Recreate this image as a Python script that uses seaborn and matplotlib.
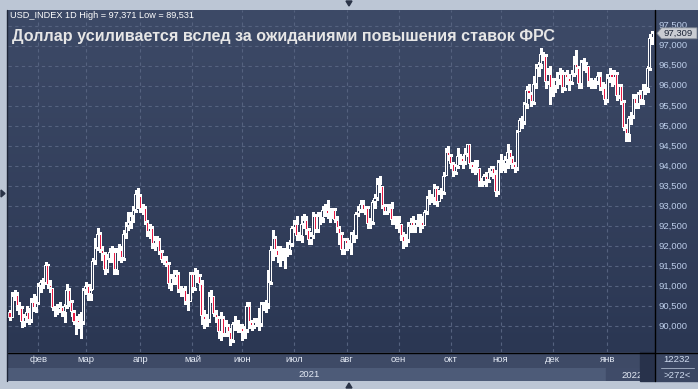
import numpy as np
import pandas as pd
import matplotlib
matplotlib.use("Agg")
import matplotlib.pyplot as plt
import seaborn as sns
from matplotlib.colors import LinearSegmentedColormap
from matplotlib.patches import Polygon, Rectangle
from matplotlib.lines import Line2D

# ---------------- data (daily bars, 14 Jan 2021 .. 28 Jan 2022) ----------------
first_open = 90.35
close = [
    90.22, 90.77, 90.78, 90.50, 90.47, 90.10, 90.23, 90.37, 90.15, 90.62, 90.45, 90.58,
    91.02, 91.10, 91.08, 91.53, 91.03, 90.95, 90.45, 90.42, 90.40, 90.48, 90.35, 90.50, 90.92, 90.60, 90.35, 90.10, 90.15, 90.08, 90.10, 90.90,
    91.00, 90.80, 90.92, 91.62, 91.95, 92.30, 91.90, 91.80, 91.40, 91.67, 91.85, 91.85, 91.40, 91.85, 91.90, 91.70, 92.30, 92.50, 92.60, 92.75, 92.90, 93.30, 93.25,
    92.93, 92.95, 92.60, 92.35, 92.45, 92.05, 92.15, 92.15, 91.85, 91.65, 91.65, 91.55, 91.05, 91.20, 91.20, 91.30, 90.90, 90.85, 90.90, 90.60, 90.60, 91.30,
    90.95, 91.30, 91.25, 91.05, 90.25, 90.15, 90.15, 90.75, 90.75, 90.30, 90.20, 89.85, 90.20, 89.80, 90.00, 89.85, 89.65, 90.05, 90.00, 90.00, 89.95,
    89.85, 89.90, 90.52, 90.10, 90.00, 90.10, 90.10, 90.05, 90.55, 90.50, 90.55, 91.10, 91.90, 92.20, 91.90, 91.75, 91.80, 91.80, 91.85, 91.90, 92.05, 92.45,
    92.55, 92.25, 92.25, 92.55, 92.65, 92.40, 92.15, 92.25, 92.75, 92.40, 92.75, 92.70, 92.90, 92.90, 92.80, 92.85, 92.90, 92.65, 92.45, 92.30, 91.90, 92.15,
    92.05, 92.05, 92.30, 92.25, 92.80, 92.90, 93.05, 92.90, 92.95, 92.55, 92.60, 93.10, 93.20, 93.55, 93.50, 93.00, 92.85, 93.00, 92.95, 92.65, 92.65, 92.60,
    92.55, 92.25, 92.10, 92.15, 92.50, 92.60, 92.50, 92.60, 92.65, 92.60, 92.50, 92.85, 93.20, 93.25, 93.20, 93.45, 93.10, 93.30, 93.35, 93.75, 94.35, 94.25,
    94.05, 93.85, 94.00, 94.25, 94.20, 94.10, 94.30, 94.55, 94.05, 93.95, 94.00, 93.95, 93.60, 93.60, 93.75, 93.65, 93.85, 93.95, 93.80, 93.35, 94.10,
    94.05, 94.05, 94.15, 94.35, 94.20, 94.05, 93.95, 94.85, 95.15, 95.10, 95.55, 95.90, 95.80, 95.60, 96.05, 96.45, 96.55, 96.80, 96.75, 96.10, 96.30, 95.95,
    96.00, 96.15, 96.15, 96.30, 95.95, 96.30, 96.20, 96.10, 96.30, 96.55, 96.45, 96.05, 96.60, 96.55, 96.50, 96.10, 96.05, 96.05, 96.10, 96.25, 95.95, 95.95, 95.65,
    96.20, 96.30, 96.20, 96.30, 95.75, 96.00, 95.60, 94.95, 94.80, 95.20, 95.25, 95.70, 95.55, 95.80, 95.65, 95.90, 95.95, 96.45, 97.20, 97.31,
]
high = [
    90.40, 90.85, 90.90, 90.85, 90.60, 90.50, 90.30, 90.50, 90.45, 90.70, 90.80, 90.75,
    91.08, 91.15, 91.20, 91.60, 91.55, 91.15, 90.95, 90.50, 90.55, 90.60, 90.50, 90.55, 91.05, 90.95, 90.65, 90.40, 90.25, 90.30, 90.35, 90.95,
    91.10, 91.05, 91.05, 91.70, 92.20, 92.45, 92.35, 92.00, 91.85, 91.80, 91.95, 92.00, 91.95, 91.95, 92.05, 92.00, 92.40, 92.60, 92.85, 92.85, 93.00, 93.40, 93.45,
    93.30, 93.05, 93.00, 92.65, 92.55, 92.50, 92.25, 92.25, 92.20, 91.90, 91.75, 91.75, 91.60, 91.30, 91.40, 91.40, 91.35, 91.00, 90.95, 91.00, 90.80, 91.35,
    91.35, 91.45, 91.40, 91.30, 91.15, 90.40, 90.30, 90.85, 90.90, 90.75, 90.40, 90.25, 90.35, 90.25, 90.15, 90.05, 89.95, 90.10, 90.25, 90.15, 90.05,
    90.05, 90.00, 90.60, 90.60, 90.15, 90.20, 90.20, 90.45, 90.60, 90.60, 90.65, 91.40, 92.00, 92.40, 92.25, 92.00, 92.00, 91.95, 91.95, 92.10, 92.15, 92.50,
    92.65, 92.75, 92.35, 92.75, 92.80, 92.75, 92.45, 92.35, 92.85, 92.80, 92.85, 92.85, 93.00, 93.05, 93.15, 92.95, 92.95, 92.95, 92.75, 92.50, 92.35, 92.20,
    92.20, 92.15, 92.35, 92.40, 92.85, 93.00, 93.15, 93.15, 93.00, 93.00, 92.70, 93.15, 93.30, 93.70, 93.75, 93.50, 93.05, 93.05, 93.05, 93.10, 92.75, 92.75,
    92.75, 92.55, 92.35, 92.30, 92.60, 92.70, 92.75, 92.65, 92.80, 92.80, 92.75, 92.90, 93.25, 93.40, 93.30, 93.55, 93.50, 93.40, 93.45, 93.85, 94.45, 94.50,
    94.30, 94.10, 94.05, 94.45, 94.30, 94.25, 94.45, 94.55, 94.55, 94.10, 94.15, 94.15, 93.95, 93.70, 93.80, 93.85, 93.95, 94.00, 94.00, 93.90, 94.15,
    94.30, 94.15, 94.25, 94.55, 94.40, 94.25, 94.10, 94.90, 95.20, 95.25, 95.60, 96.00, 96.05, 95.85, 96.25, 96.55, 96.60, 96.95, 96.85, 96.80, 96.45, 96.50,
    96.20, 96.20, 96.35, 96.45, 96.40, 96.35, 96.40, 96.30, 96.40, 96.75, 96.90, 96.50, 96.65, 96.70, 96.60, 96.50, 96.20, 96.15, 96.20, 96.35, 96.35, 96.10, 96.05,
    96.30, 96.45, 96.40, 96.40, 96.35, 96.05, 96.05, 95.65, 95.05, 95.25, 95.35, 95.80, 95.80, 95.85, 95.90, 96.05, 96.05, 96.50, 97.30, 97.37,
]
low = [
    90.15, 90.20, 90.65, 90.40, 90.30, 89.98, 90.00, 90.10, 90.05, 90.10, 90.38, 90.35,
    90.55, 90.85, 90.95, 91.05, 90.95, 90.85, 90.40, 90.25, 90.30, 90.35, 90.25, 90.10, 90.45, 90.50, 90.25, 90.05, 89.80, 89.95, 89.70, 90.05,
    90.80, 90.65, 90.65, 90.90, 91.55, 91.90, 91.85, 91.65, 91.30, 91.35, 91.60, 91.60, 91.30, 91.30, 91.65, 91.60, 91.65, 92.20, 92.40, 92.45, 92.60, 92.85, 92.95,
    92.85, 92.80, 92.55, 92.25, 92.20, 91.95, 91.90, 92.00, 91.80, 91.60, 91.55, 91.50, 90.95, 90.90, 91.05, 91.05, 90.85, 90.75, 90.75, 90.55, 90.40, 90.60,
    90.85, 90.90, 91.10, 90.90, 90.05, 89.95, 90.00, 90.10, 90.60, 90.25, 90.10, 89.70, 89.65, 89.75, 89.75, 89.75, 89.53, 89.60, 89.90, 89.85, 89.85,
    89.65, 89.70, 89.85, 89.95, 89.90, 89.95, 90.00, 89.90, 90.00, 90.40, 90.35, 90.45, 91.05, 91.65, 91.75, 91.60, 91.50, 91.65, 91.45, 91.75, 91.80, 92.00,
    92.35, 92.15, 92.15, 92.10, 92.45, 92.30, 92.05, 92.05, 92.20, 92.35, 92.35, 92.55, 92.60, 92.75, 92.70, 92.60, 92.70, 92.60, 92.35, 92.05, 91.80, 91.80,
    91.90, 91.95, 91.80, 92.10, 92.20, 92.75, 92.85, 92.85, 92.80, 92.45, 92.45, 92.55, 92.95, 93.15, 93.35, 92.95, 92.80, 92.80, 92.85, 92.55, 92.55, 92.45,
    92.35, 92.15, 91.95, 92.00, 92.10, 92.35, 92.35, 92.35, 92.50, 92.35, 92.45, 92.50, 92.80, 93.05, 93.10, 93.05, 93.00, 93.10, 93.20, 93.30, 93.75, 94.15,
    93.95, 93.75, 93.80, 93.95, 94.05, 93.95, 94.05, 94.25, 93.95, 93.85, 93.80, 93.85, 93.50, 93.50, 93.55, 93.50, 93.60, 93.75, 93.70, 93.25, 93.30,
    93.85, 93.90, 93.85, 93.95, 94.05, 93.95, 93.85, 93.90, 94.85, 94.95, 95.05, 95.45, 95.70, 95.50, 95.55, 95.95, 96.25, 96.45, 96.65, 95.95, 96.05, 95.55,
    95.75, 95.85, 95.95, 96.05, 95.85, 95.90, 96.05, 95.90, 96.05, 96.25, 96.30, 95.95, 95.95, 96.40, 96.35, 96.00, 95.95, 95.95, 95.95, 96.05, 95.90, 95.80, 95.55,
    95.60, 96.10, 96.00, 96.05, 95.65, 95.70, 95.55, 94.90, 94.62, 94.62, 95.05, 95.20, 95.45, 95.45, 95.55, 95.55, 95.80, 95.85, 96.40, 97.05,
]
# FX bars: each bar opens where the previous one closed
open_ = [first_open] + close[:-1]

month_names = ["янв", "фев", "мар", "апр", "май", "июн", "июл", "авг", "сен", "окт", "ноя", "дек"]
price_ticks = [90.0, 90.5, 91.0, 91.5, 92.0, 92.5, 93.0, 93.5, 94.0, 94.5, 95.0, 95.5, 96.0, 96.5, 97.0, 97.5]
last_price = 97.309
title = "Доллар усиливается вслед за ожиданиями повышения ставок ФРС"
header = "USD_INDEX 1D High = 97,371 Low = 89,531"

dates = pd.bdate_range("2021-01-14", periods=len(close))
df = pd.DataFrame({"date": dates, "o": open_, "h": high, "l": low, "c": close})
df["i"] = np.arange(len(df))

# ---------------- styling ----------------
sns.set_theme(style="dark", rc={"axes.edgecolor": "none"})
plt.rcParams["font.family"] = ["Liberation Sans", "DejaVu Sans"]

W, H = 698, 389
fig = plt.figure(figsize=(W / 100, H / 100), dpi=100)
fig.patch.set_facecolor("#bcc6d5")


def rect(x0, y0, x1, y1):
    return [x0 / W, 1 - y1 / H, (x1 - x0) / W, (y1 - y0) / H]


def fx(x):
    return x / W


def fy(y):
    return 1 - y / H


YMIN, YMAX = 89.362, 97.89
XMIN, XMAX = -0.84, 272.15
PX_Y = (YMAX - YMIN) / 342.0  # price units per pixel

ax = fig.add_axes(rect(8, 10, 655, 352))
ax.set_xlim(XMIN, XMAX)
ax.set_ylim(YMIN, YMAX)
ax.axis("off")
cmap = LinearSegmentedColormap.from_list("bg", ["#2b3753", "#3d4a67"])
grad = np.linspace(0, 1, 256).reshape(-1, 1)
ax.imshow(grad, extent=[XMIN, XMAX, YMIN, YMAX], origin="lower", aspect="auto", cmap=cmap, zorder=0)

# grid
month_start = df.index[df["date"].dt.month != df["date"].shift(1).dt.month].tolist()[1:]
for v in price_ticks:
    ax.axhline(v, color="#55627f", lw=0.8, ls=(0, (3, 3)), zorder=1)
for i in month_start:
    ax.axvline(i, color="#55627f", lw=0.8, ls=(0, (3, 3)), zorder=1)

# candles
o = df["o"].values
c = df["c"].values
hi = df["h"].values
lo = df["l"].values
x = df["i"].values
bt = np.minimum(o, c)
tp = np.maximum(o, c)
ax.vlines(x, tp, np.maximum(hi, tp), color="white", lw=0.75, zorder=2, antialiased=False)
ax.vlines(x, np.minimum(lo, bt), bt, color="white", lw=0.75, zorder=2, antialiased=False)
# white outer body
ax.bar(x, np.maximum(tp - bt, PX_Y), bottom=bt, width=1.3, color="white",
       linewidth=0, zorder=3, antialiased=False)
# 1-px inner fill: red for falling bars, dark for rising bars
bear = c < o
face = np.where(bear, "#ea1a44", "#2f3b57")
inner_h = tp - bt - 2 * PX_Y
mask = inner_h > 0
ax.bar(x[mask], inner_h[mask], bottom=bt[mask] + PX_Y, width=0.45, color=face[mask],
       linewidth=0, zorder=4, antialiased=False)

# right price axis
axr = fig.add_axes(rect(655, 10, 698, 352))
axr.set_ylim(YMIN, YMAX)
axr.set_xlim(0, 1)
axr.axis("off")
axr.imshow(grad, extent=[0, 1, YMIN, YMAX], origin="lower", aspect="auto", cmap=cmap, zorder=0)
for v in price_ticks:
    axr.text(0.07, v, f"{v:.3f}".replace(".", ","), color="#bccde9", fontsize=6.8,
             va="center", ha="left", zorder=2)

# price tag
tag_y = fy(45.7 + (97 - last_price) * 40.1)
ph = 5.5 / H
tag = Polygon([(fx(657), tag_y), (fx(661.5), tag_y + ph), (fx(697), tag_y + ph),
               (fx(697), tag_y - ph), (fx(661.5), tag_y - ph)], closed=True,
              facecolor="#c9ccd2", edgecolor="#7f8794", lw=0.6, transform=fig.transFigure, zorder=10)
fig.add_artist(tag)
fig.text(fx(663), tag_y, f"{last_price:.3f}".replace(".", ","), color="#1b2436", fontsize=6.8,
         va="center", ha="left", zorder=11)

# date axis bands
axd = fig.add_axes(rect(8, 352, 655, 368))
axd.set_xlim(XMIN, XMAX)
axd.set_ylim(0, 1)
axd.axis("off")
axd.add_patch(Rectangle((XMIN, 0), XMAX - XMIN, 1, color="#3e4a66", zorder=0))
for i in month_start:
    axd.text(i, 0.5, month_names[df["date"][i].month - 1], color="#e3e9f4", fontsize=6.8,
             ha="center", va="center")

axy = fig.add_axes(rect(8, 368, 655, 381))
axy.set_xlim(XMIN, XMAX)
axy.set_ylim(0, 1)
axy.axis("off")
jan22 = month_start[-1]
axy.add_patch(Rectangle((XMIN, 0), jan22 - 0.5 - XMIN, 1, color="#4d5b78", zorder=0))
axy.add_patch(Rectangle((jan22 - 0.5, 0), XMAX - jan22 + 0.5, 1, color="#3f4b68", zorder=0))
axy.text(126, 0.5, "2021", color="#e3e9f4", fontsize=6.8, ha="center", va="center")
axy.text(jan22 + 6, 0.45, "2022", color="#e3e9f4", fontsize=6.8, ha="left", va="center")

fig.add_artist(Rectangle((fx(640), fy(381)), fx(15), 29 / H, transform=fig.transFigure,
                         color="#28324b", zorder=5))
fig.add_artist(Rectangle((fx(655), fy(381)), fx(43), 29 / H, transform=fig.transFigure,
                         color="#3a4662", zorder=5))
fig.text(fx(677), fy(360), "12232", color="#d0dcef", fontsize=6.8, ha="center", va="center", zorder=6)
fig.add_artist(Line2D([fx(661), fx(694)], [fy(367.5), fy(367.5)], color="#9aa6bb", lw=0.7, zorder=6))
fig.text(fx(677), fy(375), ">272<", color="#d0dcef", fontsize=6.8, ha="center", va="center", zorder=6)

# frame lines
fig.add_artist(Line2D([fx(655), fx(655)], [fy(10), fy(381)], color="black", lw=1.0, zorder=8))
fig.add_artist(Line2D([fx(8), fx(698)], [fy(352.5), fy(352.5)], color="black", lw=1.0, zorder=8))
fig.add_artist(Line2D([fx(7.5), fx(7.5)], [fy(10), fy(381)], color="#1e2638", lw=1.0, zorder=8))

# small navigation triangles
for pts in ([(346, 1), (352, 1), (349, 6)], [(346, 388), (352, 388), (349, 383)], [(1, 190), (1, 197), (5, 193.5)]):
    fig.add_artist(Polygon([(fx(a), fy(b)) for a, b in pts], closed=True, color="#2a3347",
                           transform=fig.transFigure, zorder=9))

# texts
fig.text(fx(10), fy(15), header, color="white", fontsize=6.55, ha="left", va="center", zorder=12)
fig.text(fx(12), fy(36), title, color="#e6e6e6", fontsize=11.65, fontweight="bold",
         ha="left", va="center", zorder=12)

fig.savefig("out.png", dpi=100, facecolor=fig.get_facecolor())
